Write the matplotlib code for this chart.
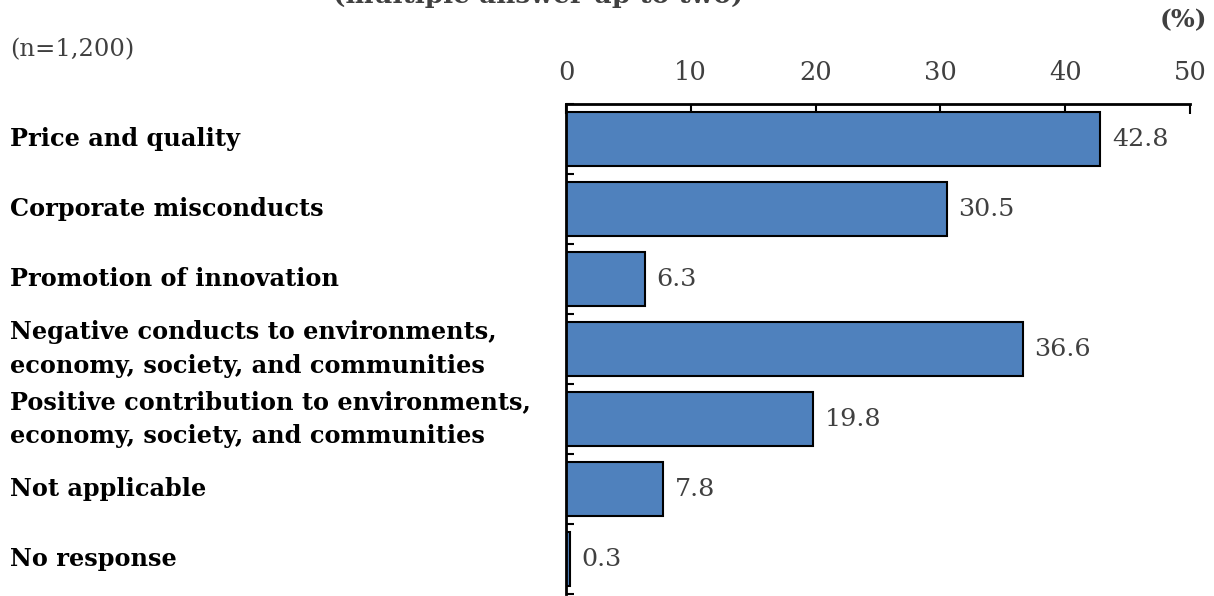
import matplotlib
matplotlib.use("Agg")
import matplotlib.pyplot as plt
import numpy as np

categories = [
    "Price and quality",
    "Corporate misconducts",
    "Promotion of innovation",
    "Negative conducts to environments,\neconomy, society, and communities",
    "Positive contribution to environments,\neconomy, society, and communities",
    "Not applicable",
    "No response",
]
values = [42.8, 30.5, 6.3, 36.6, 19.8, 7.8, 0.3]
xticks = [0, 10, 20, 30, 40, 50]

W, H = 1214, 596
fig = plt.figure(figsize=(W / 100, H / 100), dpi=100)
ax = fig.add_axes([566 / W, 2 / H, (1190 - 566) / W, (594 - 104) / H])

serif = ["DejaVu Serif"]
bar_color = "#4F81BD"
text_gray = "#404040"

y = np.arange(len(categories))
ax.barh(y, values, height=0.76, color=bar_color, edgecolor="black", linewidth=1.5, zorder=2)

ax.set_xlim(0, 50)
ax.set_ylim(len(categories) - 0.5, -0.5)

# value labels at the end of each bar
for yi, v in zip(y, values):
    ax.text(v + 0.95, yi, f"{v:.1f}", ha="left", va="center", fontsize=18.3,
            family=serif, color=text_gray)

# axis styling: top and left spines only, ticks pointing inward
for side in ("right", "bottom"):
    ax.spines[side].set_visible(False)
for side in ("top", "left"):
    ax.spines[side].set_linewidth(2)
    ax.spines[side].set_color("black")

ax.xaxis.tick_top()
ax.set_xticks(xticks)
ax.set_xticklabels([str(t) for t in xticks], family=serif, fontsize=18.5)
ax.tick_params(axis="x", direction="in", length=7, width=1.5, pad=14, colors="black",
               labelcolor=text_gray)

ax.set_yticks(np.arange(-0.5, len(categories) + 0.5, 1.0))
ax.set_yticklabels([])
ax.tick_params(axis="y", direction="in", length=6, width=1.5, colors="black")

# category labels, left aligned at the figure edge
for yi, cat in zip(y, categories):
    yp = ax.transData.transform((0, yi))[1]
    fig.text(10 / W, yp / H, cat, ha="left", va="center", fontsize=17.3,
             family=serif, fontweight="bold", color="black", linespacing=1.52)

fig.text(10 / W, 1 - 50 / H, "(n=1,200)", ha="left", va="center", fontsize=17.5,
         family=serif, color=text_gray)
fig.text(1183 / W, 1 - 20 / H, "(%)", ha="center", va="center", fontsize=18,
         family=serif, fontweight="bold", color=text_gray)
fig.text(538 / W, 1 - 3 / H, "(multiple answer up to two)", ha="center", va="baseline",
         fontsize=19, family=serif, fontweight="bold", color=text_gray)

fig.savefig("out.png", dpi=100)
